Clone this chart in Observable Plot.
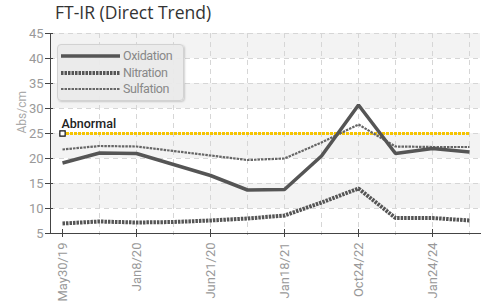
<!DOCTYPE html>
<html>
<head>
<meta charset="utf-8">
<script src="https://cdn.jsdelivr.net/npm/d3@7"></script>
<script src="https://cdn.jsdelivr.net/npm/@observablehq/plot@0.6"></script>
<style>
  html, body { margin: 0; padding: 0; background: #fff; }
  #wrap { position: relative; width: 483px; height: 303px; overflow: hidden; }
  #title { position: absolute; left: 55px; top: 0px; font-family: "Open Sans", sans-serif; font-size: 17.5px; color: #333; white-space: nowrap; }
  #chart { position: absolute; left: 0; top: 25px; }
  #legend { position: absolute; left: 57px; top: 44px; width: 125px; height: 55px; background: rgba(234,234,234,0.95); border: 1px solid #d2d2d2; border-radius: 4px; box-shadow: 1px 1px 2px rgba(0,0,0,0.18); }
  #legend .item { position: absolute; left: 0; height: 16px; width: 125px; }
  #legend svg { position: absolute; left: 3px; top: 0; }
  #legend span { position: absolute; left: 65px; top: 0px; font-family: Roboto, sans-serif; font-size: 12.5px; letter-spacing: -0.4px; color: #888; line-height: 16px; }
</style>
</head>
<body>
<div id="wrap">
  <div id="title">FT-IR (Direct Trend)</div>
  <div id="chart"></div>
  <div id="legend"></div>
</div>
<script>
const tickLabels = ["May30/19", null, "Jan8/20", null, "Jun21/20", null, "Jan18/21", null, "Oct24/22", null, "Jan24/24", null];
const oxidation = [19.1, 21.1, 21.0, 18.8, 16.6, 13.7, 13.8, 20.5, 30.7, 21.0, 22.0, 21.3];
const nitration = [7.0, 7.4, 7.2, 7.3, 7.6, 8.0, 8.6, 11.2, 14.0, 8.1, 8.1, 7.6];
const sulfation = [21.8, 22.5, 22.4, 21.5, 20.6, 19.7, 20.0, 23.2, 26.8, 22.4, 22.3, 22.3];
const abnormal = 25;
const yTicks = [5, 10, 15, 20, 25, 30, 35, 40, 45];
const bands = [[10, 15], [20, 25], [30, 35], [40, 45]];

const idx = d3.range(tickLabels.length);
const major = idx.filter(i => tickLabels[i]);
const minor = idx.filter(i => !tickLabels[i]);
const series = [
  {name: "Oxidation", values: oxidation, stroke: "#555", width: 3.5, dash: null},
  {name: "Nitration", values: nitration, stroke: "#555", width: 4, dash: "2.5,1"},
  {name: "Sulfation", values: sulfation, stroke: "#666", width: 2.2, dash: "2.5,1"}
];
const font = 'Roboto, sans-serif';

const lineMarks = series.slice().reverse().map(s =>
  Plot.line(s.values.map((v, i) => ({i, v})), {
    x: "i", y: "v", stroke: s.stroke, strokeWidth: s.width,
    strokeDasharray: s.dash, strokeLinejoin: "miter", strokeLinecap: "butt"
  })
);

const chart = Plot.plot({
  width: 483,
  height: 278,
  marginLeft: 50,
  marginRight: 3,
  marginTop: 8,
  marginBottom: 70,
  style: {fontFamily: font, fontSize: "13px", color: "#999", background: "transparent"},
  x: {type: "point", domain: idx, padding: 0.3, axis: null},
  y: {domain: [5, 45], axis: null},
  marks: [
    Plot.rect(bands, {y1: d => d[0], y2: d => d[1], fill: "#f3f3f3"}),
    Plot.ruleY(yTicks.slice(1), {stroke: "#d6d6d6", strokeDasharray: "5,4"}),
    Plot.ruleX(idx.slice(1), {x: d => d, stroke: "#d6d6d6", strokeDasharray: "5,4"}),
    Plot.axisY({ticks: yTicks, tickSize: 5, tickPadding: 2, stroke: "#444", fill: "#999", fontSize: 13, label: null}),
    Plot.axisY({ticks: yTicks, tickSize: -3, text: null, stroke: "#444", label: null}),
    Plot.text(["Abs/cm"], {frameAnchor: "left", dx: -28, rotate: -90, fill: "#aaa", fontSize: 12}),
    Plot.axisX({ticks: major, tickFormat: i => tickLabels[i], tickSize: 4, tickRotate: -90, tickPadding: 5, stroke: "#444", fill: "#999", fontSize: 13, label: null}),
    Plot.axisX({ticks: major, tickSize: -4, text: null, stroke: "#444", label: null}),
    Plot.axisX({ticks: minor, tickSize: 2, text: null, stroke: "#bbb", label: null}),
    Plot.frame({anchor: "left", stroke: "#444"}),
    Plot.frame({anchor: "bottom", stroke: "#444"}),
    Plot.ruleY([abnormal], {x1: 0, x2: idx.length - 1, stroke: "#f5c400", strokeWidth: 3, strokeDasharray: "3,1"}),
    ...lineMarks,
    Plot.dot([abnormal], {x: () => 0, y: d => d, symbol: "square", r: 3, fill: "#fff", stroke: "#111", strokeWidth: 1.2}),
    Plot.text(["Abnormal"], {x: () => 0, y: () => abnormal, dx: -1, dy: -10, textAnchor: "start", fill: "#222", fontSize: 12.5, fontWeight: 500, letterSpacing: "-0.2px"})
  ]
});
document.getElementById("chart").appendChild(chart);

// legend
const legend = document.getElementById("legend");
series.forEach((s, k) => {
  const item = document.createElement("div");
  item.className = "item";
  item.style.top = (3 + k * 16.5) + "px";
  const ns = "http://www.w3.org/2000/svg";
  const svg = document.createElementNS(ns, "svg");
  svg.setAttribute("width", 60); svg.setAttribute("height", 16);
  const ln = document.createElementNS(ns, "line");
  ln.setAttribute("x1", 0); ln.setAttribute("x2", 59);
  ln.setAttribute("y1", 8); ln.setAttribute("y2", 8);
  ln.setAttribute("stroke", s.stroke);
  ln.setAttribute("stroke-width", s.width);
  if (s.dash) ln.setAttribute("stroke-dasharray", s.dash);
  svg.appendChild(ln);
  const sp = document.createElement("span");
  sp.textContent = s.name;
  item.appendChild(svg); item.appendChild(sp);
  legend.appendChild(item);
});
</script>
</body>
</html>
